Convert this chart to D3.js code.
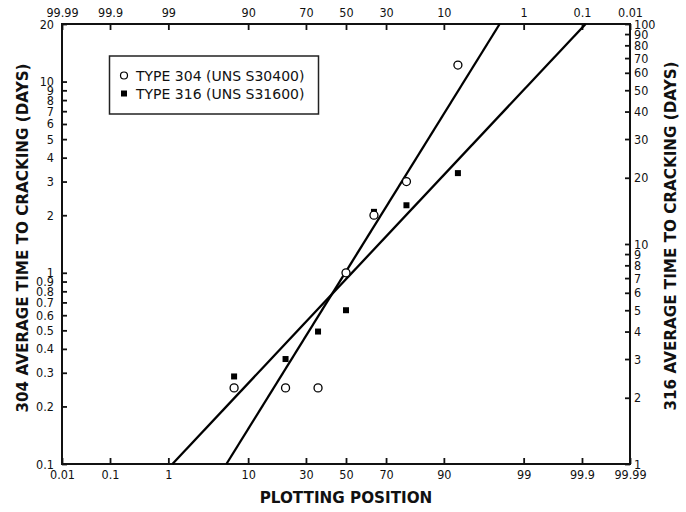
<!DOCTYPE html>
<html>
<head>
<meta charset="utf-8">
<script src="https://cdn.jsdelivr.net/npm/d3@7"></script>
<style>
  body { margin: 0; background: #fff; }
  .tick text { font-family: "DejaVu Sans Condensed", "DejaVu Sans", sans-serif; font-stretch: condensed; font-size: 12.5px; fill: #111; }
  .tick line { stroke: #111; stroke-width: 1.8; }
  .title { font-family: "DejaVu Sans", sans-serif; font-weight: bold; font-size: 15.2px; fill: #111; }
  .legend text { font-family: "DejaVu Sans", sans-serif; font-size: 14px; fill: #111; }
</style>
</head>
<body>
<div class="chart"></div>
<script>
// plotting positions (%) for the 7 specimens
var plotPos = [7.14, 21.43, 35.71, 50, 64.29, 78.57, 92.86];
// average time to cracking (days)
var days304 = [0.25, 0.25, 0.25, 1.0, 2.0, 3.0, 12.2];
var days316 = [2.5, 3.0, 4.0, 5.0, 14, 15, 21];

// fitted lines, end points (plotting position %, days)
var fit304P = [5.87, 97.79];
var fit304T = [0.1, 20];
var fit316P = [1.15, 99.915];
var fit316T = [1, 100];

// tick values
var probTicks = [0.01, 0.1, 1, 10, 30, 50, 70, 90, 99, 99.9, 99.99];
var probLabels = ["0.01", "0.1", "1", "10", "30", "50", "70", "90", "99", "99.9", "99.99"];
var probTopLabels = ["99.99", "99.9", "99", "90", "70", "50", "30", "10", "1", "0.1", "0.01"];
var leftTicks = [0.1, 0.2, 0.3, 0.4, 0.5, 0.6, 0.7, 0.8, 0.9, 1, 2, 3, 4, 5, 6, 7, 8, 9, 10, 20];
var rightTicks = [1, 2, 3, 4, 5, 6, 7, 8, 9, 10, 20, 30, 40, 50, 60, 70, 80, 90, 100];

var svgWidth = 686;
var svgHeight = 512;

var margin = {
    top: 24,
    right: 56,
    bottom: 48,
    left: 62
};

var width = svgWidth - margin.left - margin.right;
var height = svgHeight - margin.top - margin.bottom;

// inverse of the standard normal CDF (Acklam)
function probit(p) {
    var a = [-3.969683028665376e+01, 2.209460984245205e+02, -2.759285104469687e+02,
        1.383577518672690e+02, -3.066479806614716e+01, 2.506628277459239e+00];
    var b = [-5.447609879822406e+01, 1.615858368580409e+02, -1.556989798598866e+02,
        6.680131188771972e+01, -1.328068155288572e+01];
    var c = [-7.784894002430293e-03, -3.223964580411365e-01, -2.400758277161838e+00,
        -2.549732539343734e+00, 4.374664141464968e+00, 2.938163982698783e+00];
    var d = [7.784695709041462e-03, 3.224671290700398e-01, 2.445134137142996e+00,
        3.754408661907416e+00];
    var pLow = 0.02425, q, r;
    if (p < pLow) {
        q = Math.sqrt(-2 * Math.log(p));
        return (((((c[0] * q + c[1]) * q + c[2]) * q + c[3]) * q + c[4]) * q + c[5]) /
            ((((d[0] * q + d[1]) * q + d[2]) * q + d[3]) * q + 1);
    } else if (p <= 1 - pLow) {
        q = p - 0.5;
        r = q * q;
        return (((((a[0] * r + a[1]) * r + a[2]) * r + a[3]) * r + a[4]) * r + a[5]) * q /
            (((((b[0] * r + b[1]) * r + b[2]) * r + b[3]) * r + b[4]) * r + 1);
    }
    q = Math.sqrt(-2 * Math.log(1 - p));
    return -(((((c[0] * q + c[1]) * q + c[2]) * q + c[3]) * q + c[4]) * q + c[5]) /
        ((((d[0] * q + d[1]) * q + d[2]) * q + d[3]) * q + 1);
}

var svg = d3
    .select(".chart")
    .append("svg")
    .attr("width", svgWidth)
    .attr("height", svgHeight);

var chartGroup = svg.append("g")
    .attr("transform", `translate(${margin.left}, ${margin.top})`);

// scales: x is linear in normal score z
var zScale = d3.scaleLinear()
    .domain([probit(0.0001), probit(0.9999)])
    .range([0, width]);
var xPos = p => zScale(probit(p / 100));

var yLeft = d3.scaleLog().domain([0.1, 20]).range([height, 0]);
var yRight = d3.scaleLog().domain([1, 100]).range([height, 0]);

var zTicks = probTicks.map(p => probit(p / 100));

// axes, ticks pointing inwards
var bottomAxis = d3.axisBottom(zScale)
    .tickValues(zTicks)
    .tickFormat((d, i) => probLabels[i])
    .tickSize(-6).tickSizeOuter(0).tickPadding(6);

var topAxis = d3.axisTop(zScale)
    .tickValues(zTicks)
    .tickFormat((d, i) => probTopLabels[i])
    .tickSize(-6).tickSizeOuter(0).tickPadding(7);

var leftAxis = d3.axisLeft(yLeft)
    .tickValues(leftTicks)
    .tickFormat(d => String(d))
    .tickSize(-5).tickSizeOuter(0).tickPadding(8);

var rightAxis = d3.axisRight(yRight)
    .tickValues(rightTicks)
    .tickFormat(d => String(d))
    .tickSize(-5).tickSizeOuter(0).tickPadding(4);

chartGroup.append("g")
    .attr("transform", `translate(0, ${height})`)
    .call(bottomAxis);
chartGroup.append("g")
    .call(topAxis);
chartGroup.append("g")
    .call(leftAxis);
chartGroup.append("g")
    .attr("transform", `translate(${width}, 0)`)
    .call(rightAxis);

chartGroup.selectAll(".domain").remove();

// frame
chartGroup.append("rect")
    .attr("x", 0)
    .attr("y", 0)
    .attr("width", width)
    .attr("height", height)
    .attr("fill", "none")
    .attr("stroke", "#111")
    .attr("stroke-width", 2);

// fitted lines
var line304 = d3.line()
    .x(d => xPos(d[0]))
    .y(d => yLeft(d[1]));
var line316 = d3.line()
    .x(d => xPos(d[0]))
    .y(d => yRight(d[1]));

chartGroup.append("path")
    .datum(d3.zip(fit304P, fit304T))
    .attr("d", line304)
    .attr("fill", "none")
    .attr("stroke", "#000")
    .attr("stroke-width", 2.3);

chartGroup.append("path")
    .datum(d3.zip(fit316P, fit316T))
    .attr("d", line316)
    .attr("fill", "none")
    .attr("stroke", "#000")
    .attr("stroke-width", 2.3);

// type 316 points (right axis)
chartGroup.selectAll(".sq")
    .data(d3.zip(plotPos, days316))
    .enter()
    .append("rect")
    .attr("class", "sq")
    .attr("x", d => xPos(d[0]) - 3)
    .attr("y", d => yRight(d[1]) - 3)
    .attr("width", 6)
    .attr("height", 6)
    .attr("fill", "#000");

// type 304 points (left axis)
chartGroup.selectAll(".ci")
    .data(d3.zip(plotPos, days304))
    .enter()
    .append("circle")
    .attr("class", "ci")
    .attr("cx", d => xPos(d[0]))
    .attr("cy", d => yLeft(d[1]))
    .attr("r", 4)
    .attr("fill", "#fff")
    .attr("stroke", "#000")
    .attr("stroke-width", 1.3);

// axis titles
svg.append("text")
    .classed("title", true)
    .attr("x", margin.left + width / 2)
    .attr("y", 503)
    .attr("text-anchor", "middle")
    .text("PLOTTING POSITION");

svg.append("text")
    .classed("title", true)
    .attr("transform", "translate(28, 238) rotate(-90)")
    .attr("text-anchor", "middle")
    .text("304 AVERAGE TIME TO CRACKING (DAYS)");

svg.append("text")
    .classed("title", true)
    .attr("transform", "translate(676, 236) rotate(-90)")
    .attr("text-anchor", "middle")
    .text("316 AVERAGE TIME TO CRACKING (DAYS)");

// legend
var legend = svg.append("g").classed("legend", true);

legend.append("rect")
    .attr("x", 109.5)
    .attr("y", 56)
    .attr("width", 209)
    .attr("height", 58)
    .attr("fill", "#fff")
    .attr("stroke", "#222")
    .attr("stroke-width", 1.5);

legend.append("circle")
    .attr("cx", 124)
    .attr("cy", 75.5)
    .attr("r", 3.5)
    .attr("fill", "#fff")
    .attr("stroke", "#000")
    .attr("stroke-width", 1.2);

legend.append("rect")
    .attr("x", 121)
    .attr("y", 90.5)
    .attr("width", 6)
    .attr("height", 6)
    .attr("fill", "#000");

legend.append("text")
    .attr("x", 136)
    .attr("y", 80.5)
    .text("TYPE 304 (UNS S30400)");

legend.append("text")
    .attr("x", 136)
    .attr("y", 99)
    .text("TYPE 316 (UNS S31600)");
</script>
</body>
</html>
